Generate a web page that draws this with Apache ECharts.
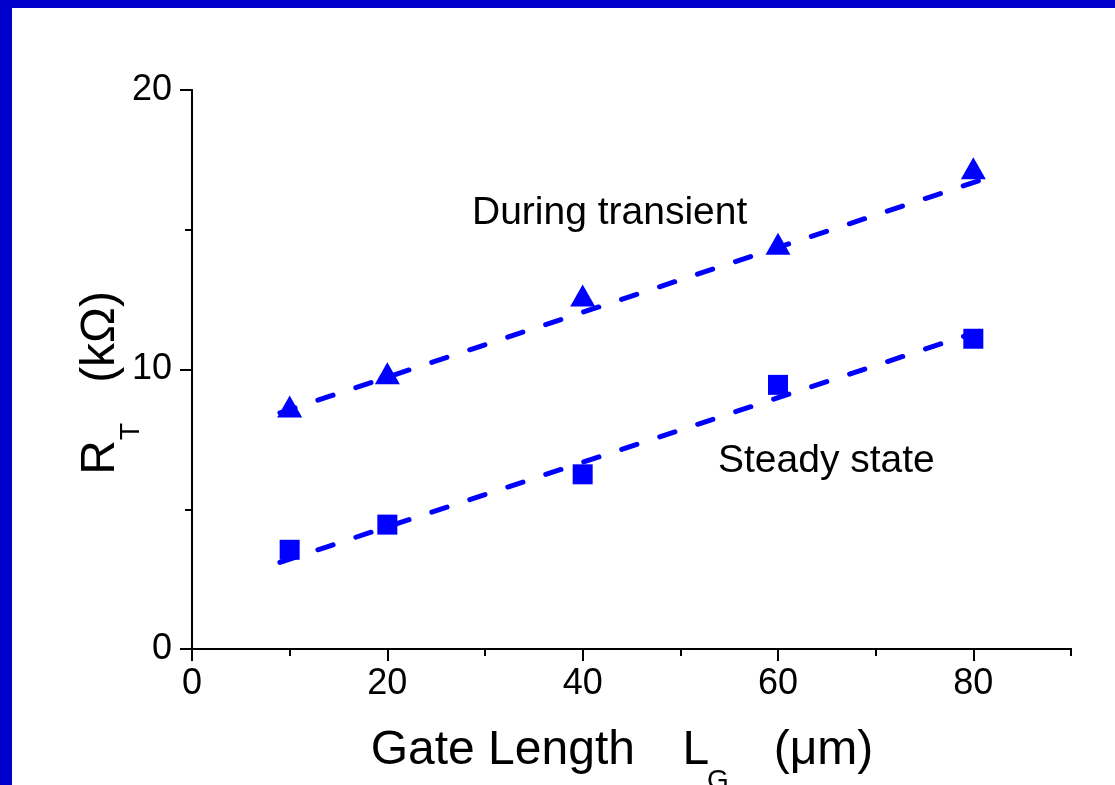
<!DOCTYPE html>
<html>
<head>
<meta charset="utf-8">
<script src="https://cdn.jsdelivr.net/npm/echarts@6/dist/echarts.min.js"></script>
<style>
  body { margin: 0; background: #0000cc; width: 1115px; height: 785px; overflow: hidden; }
  #main { position: absolute; left: 12px; top: 8px; width: 1103px; height: 777px; background: #fff; }
</style>
</head>
<body>
<div id="main"></div>
<script>
// gate length (um)
const gateLength = [10, 20, 40, 60, 80];
// measured R_T (kOhm)
const transient = [8.68, 9.87, 12.65, 14.5, 17.2];
const steady = [3.55, 4.45, 6.25, 9.45, 11.1];
// dashed fit lines, endpoints
const transientFit = [[9, 8.45], [81.4, 16.85]];
const steadyFit = [[9, 3.1], [81.3, 11.45]];
// ticks
const xMajor = [0, 20, 40, 60, 80];
const yMajor = [0, 10, 20];

var myChart = echarts.init(document.getElementById('main'));
const font = 'Liberation Sans, Arial, sans-serif';
const blue = '#0000ff';

const mainStyle = { fontSize: 48, lineHeight: 48, fontFamily: font, color: '#000', verticalAlign: 'top' };
const titleRich = {
  main: mainStyle,
  letter: Object.assign({}, mainStyle, { width: 22 }),
  sub: { fontSize: 28, lineHeight: 28, fontFamily: font, color: '#000', verticalAlign: 'top', padding: [40, 0, 0, 0] },
  g1: Object.assign({}, mainStyle, { width: 50 }),
  g2: Object.assign({}, mainStyle, { width: 45 }),
  g3: Object.assign({}, mainStyle, { width: 19 })
};

var option = {
  animation: false,
  grid: { left: 180, right: 44, top: 82, bottom: 136, outerBoundsMode: 'none' },
  xAxis: [
    {
      type: 'value', min: 0, max: 90, interval: 10,
      axisLine: { lineStyle: { color: '#000', width: 2 } },
      axisTick: { customValues: xMajor, length: 12, lineStyle: { color: '#000', width: 2 } },
      axisLabel: { customValues: xMajor, color: '#000', fontSize: 36, fontFamily: font, margin: 17 },
      splitLine: { show: false },
      name: '{main|Gate Length}{g1| }{letter|L}{sub|G}{g2| }{main|(μm)}{g3| }',
      nameLocation: 'middle',
      nameGap: 78,
      nameMoveOverlap: false,
      nameTextStyle: { rich: titleRich }
    },
    {
      type: 'value', min: 0, max: 90, interval: 10, position: 'bottom',
      axisLine: { show: false },
      axisTick: { length: 7, lineStyle: { color: '#000', width: 2 } },
      axisLabel: { show: false },
      splitLine: { show: false }
    },
    {
      type: 'value', min: 0, max: 90, interval: 10, position: 'top',
      axisLine: { lineStyle: { color: '#000', width: 2 } },
      axisTick: { inside: true, length: 3, lineStyle: { color: '#000', width: 1 } },
      axisLabel: { show: false },
      splitLine: { show: false }
    }
  ],
  yAxis: [
    {
      type: 'value', min: 0, max: 20, interval: 5,
      axisLine: { show: true, lineStyle: { color: '#000', width: 2 } },
      axisTick: { customValues: yMajor, length: 12, lineStyle: { color: '#000', width: 2 } },
      axisLabel: { customValues: yMajor, color: '#000', fontSize: 36, fontFamily: font, margin: 20 },
      splitLine: { show: false },
      name: '{main|R}{sub|T}{main|   (kΩ)  }',
      nameLocation: 'middle',
      nameGap: 67,
      nameRotate: 90,
      nameMoveOverlap: false,
      nameTextStyle: { rich: titleRich }
    },
    {
      type: 'value', min: 0, max: 20, interval: 5, position: 'left',
      axisLine: { show: false },
      axisTick: { show: true, length: 7, lineStyle: { color: '#000', width: 2 } },
      axisLabel: { show: false },
      splitLine: { show: false }
    },
    {
      type: 'value', min: 0, max: 20, interval: 5, position: 'right',
      axisLine: { show: true, lineStyle: { color: '#000', width: 2 } },
      axisTick: { show: true, inside: true, length: 3, lineStyle: { color: '#000', width: 1 } },
      axisLabel: { show: false },
      splitLine: { show: false }
    }
  ],
  series: [
    {
      name: 'transient fit', type: 'line', data: transientFit, showSymbol: false, symbol: 'none',
      lineStyle: { color: blue, width: 5, type: [16, 24], cap: 'round' }, z: 2
    },
    {
      name: 'steady fit', type: 'line', data: steadyFit, showSymbol: false, symbol: 'none',
      lineStyle: { color: blue, width: 5, type: [16, 24], cap: 'round' }, z: 2
    },
    {
      name: 'During transient', type: 'scatter', symbol: 'triangle', symbolSize: [25, 22],
      itemStyle: { color: blue, opacity: 1 }, z: 3,
      data: gateLength.map((x, i) => [x, transient[i]])
    },
    {
      name: 'Steady state', type: 'scatter', symbol: 'rect', symbolSize: 20,
      itemStyle: { color: blue, opacity: 1 }, z: 3,
      data: gateLength.map((x, i) => [x, steady[i]])
    }
  ],
  graphic: [
    { type: 'text', left: 460, top: 186, style: { text: 'During transient', fontSize: 39, fontFamily: font, fill: '#000' } },
    { type: 'text', left: 706, top: 434, style: { text: 'Steady state', fontSize: 39, fontFamily: font, fill: '#000' } }
  ]
};
myChart.setOption(option);
</script>
</body>
</html>
